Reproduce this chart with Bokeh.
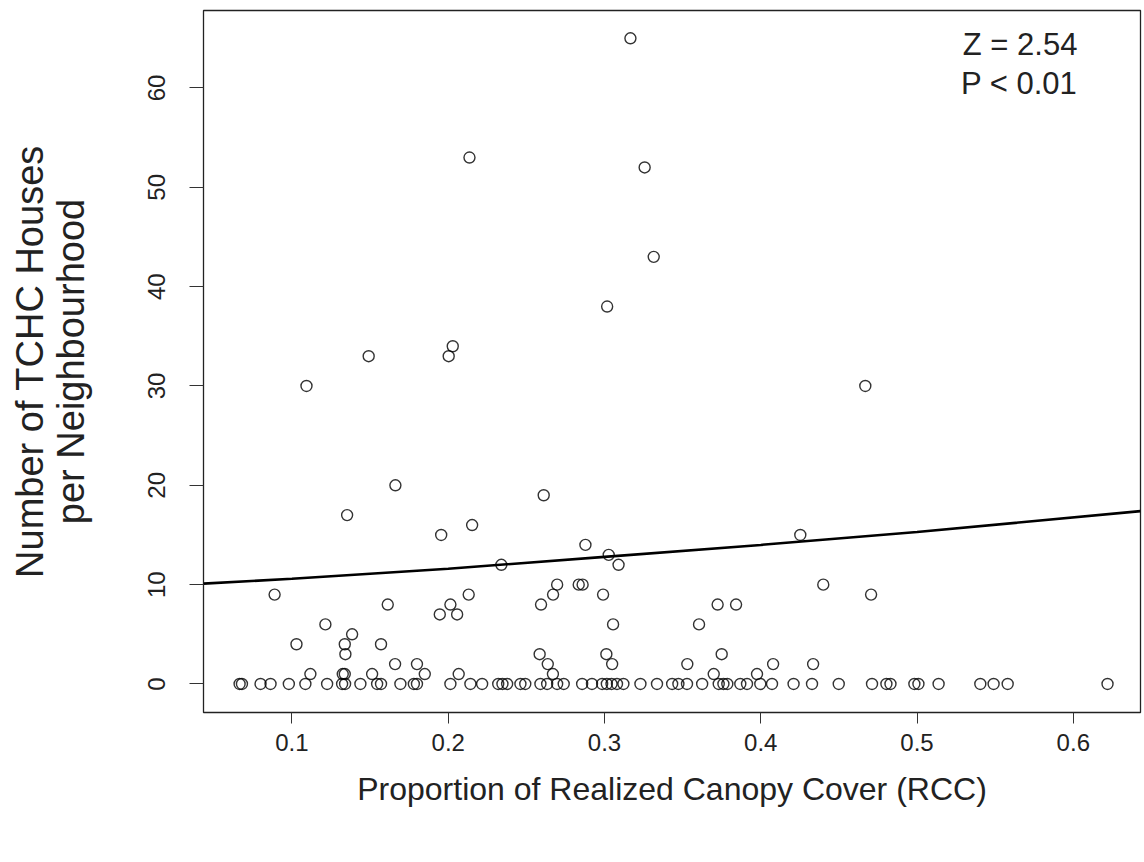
from bokeh.plotting import figure
from bokeh.models import LinearAxis, FixedTicker, Label, ColumnDataSource, Range1d
from bokeh.embed import file_html
from bokeh.resources import INLINE

# ---------------- data ----------------
rcc_nonzero = [0.0889, 0.1029, 0.1093, 0.1118, 0.1214, 0.1325, 0.1338, 0.1342, 0.1338, 0.1385,
               0.1353, 0.1491, 0.1513, 0.1570, 0.1613, 0.1662, 0.1660, 0.1800, 0.1850, 0.1946,
               0.1955, 0.2014, 0.2003, 0.2029, 0.2057, 0.2067, 0.2131, 0.2136, 0.2153, 0.2340,
               0.2585, 0.2594, 0.2611, 0.2637, 0.2670, 0.2671, 0.2697, 0.2835, 0.2860, 0.2878,
               0.2991, 0.3012, 0.3017, 0.3027, 0.3049, 0.3055, 0.3090, 0.3166, 0.3257, 0.3315,
               0.3530, 0.3605, 0.3699, 0.3724, 0.3750, 0.3842, 0.3976, 0.4079, 0.4253, 0.4335,
               0.4400, 0.4669, 0.4706]
houses_nonzero = [9, 4, 30, 1, 6, 1, 1, 3, 4, 5,
                  17, 33, 1, 4, 8, 20, 2, 2, 1, 7,
                  15, 8, 33, 34, 7, 1, 9, 53, 16, 12,
                  3, 8, 19, 2, 1, 9, 10, 10, 10, 14,
                  9, 3, 38, 13, 2, 6, 12, 65, 52, 43,
                  2, 6, 1, 8, 3, 8, 1, 2, 15, 2,
                  10, 30, 9]
rcc_zero = [0.0665, 0.0680, 0.0799, 0.0863, 0.0980, 0.1086, 0.1225, 0.1321, 0.1340, 0.1438,
            0.1545, 0.1570, 0.1694, 0.1780, 0.1800, 0.2014, 0.2142, 0.2217, 0.2320, 0.2347,
            0.2377, 0.2462, 0.2493, 0.2590, 0.2633, 0.2697, 0.2739, 0.2857, 0.2920, 0.2985,
            0.3015, 0.3045, 0.3080, 0.3121, 0.3230, 0.3336, 0.3433, 0.3473, 0.3528, 0.3625,
            0.3731, 0.3761, 0.3786, 0.3869, 0.3912, 0.3997, 0.4072, 0.4210, 0.4328, 0.4499,
            0.4712, 0.4804, 0.4830, 0.4983, 0.5009, 0.5138, 0.5405, 0.5490, 0.5580, 0.6219]
houses_zero = [0] * len(rcc_zero)

# fitted curve
fit_rcc = [0.0434, 0.1, 0.2, 0.3, 0.4, 0.5, 0.643]
fit_houses = [10.1, 10.6, 11.6, 12.8, 14.0, 15.3, 17.4]

x_ticks = [0.1, 0.2, 0.3, 0.4, 0.5, 0.6]
y_ticks = [0, 10, 20, 30, 40, 50, 60]

x_title = "Proportion of Realized Canopy Cover (RCC)"
y_title_1 = "Number of TCHC Houses"
y_title_2 = "per Neighbourhood"
stat_lines = ["Z = 2.54", "P < 0.01"]

FONT = "Liberation Sans"

# ---------------- figure ----------------
p = figure(width=1142, height=852,
           x_range=Range1d(0.0434, 0.643), y_range=Range1d(-2.87, 67.8),
           output_backend="svg", toolbar_location=None,
           min_border_left=203, min_border_right=2, min_border_top=10, min_border_bottom=140)
p.grid.visible = False
p.background_fill_color = "white"
p.border_fill_color = "white"
p.outline_line_color = "#222222"
p.outline_line_width = 1.3

src = ColumnDataSource(dict(x=rcc_nonzero + rcc_zero, y=houses_nonzero + houses_zero))
p.scatter("x", "y", source=src, marker="circle", size=11, fill_color=None,
          line_color="black", line_width=1.4, line_alpha=0.8)
p.line(fit_rcc, fit_houses, line_color="black", line_width=2.6)

# x axis
xa = p.xaxis[0]
xa.ticker = FixedTicker(ticks=x_ticks)
xa.axis_line_color = None
xa.major_tick_in = 0
xa.major_tick_out = 11
xa.major_tick_line_color = "#333333"
xa.minor_tick_line_color = None
xa.major_label_text_font = FONT
xa.major_label_text_font_size = "24px"
xa.major_label_text_color = "#222222"
xa.major_label_standoff = 10
xa.axis_label = x_title
xa.axis_label_text_font = FONT
xa.axis_label_text_font_size = "32px"
xa.axis_label_text_font_style = "normal"
xa.axis_label_text_color = "#222222"
xa.axis_label_standoff = 17

# y axis (inner)
ya = p.yaxis[0]
ya.ticker = FixedTicker(ticks=y_ticks)
ya.axis_line_color = None
ya.major_tick_in = 0
ya.major_tick_out = 14
ya.major_tick_line_color = "#333333"
ya.minor_tick_line_color = None
ya.major_label_orientation = "parallel"
ya.major_label_text_font = FONT
ya.major_label_text_font_size = "24px"
ya.major_label_text_color = "#222222"
ya.major_label_standoff = 24
ya.axis_label = y_title_2
ya.axis_label_text_font = FONT
ya.axis_label_text_font_size = "38px"
ya.axis_label_text_font_style = "normal"
ya.axis_label_text_color = "#222222"
ya.axis_label_standoff = 54

# y axis (outer, first title line)
ya2 = LinearAxis(ticker=FixedTicker(ticks=[]), axis_line_color=None,
                 major_tick_line_color=None, minor_tick_line_color=None,
                 major_label_text_font_size="0px",
                 axis_label=y_title_1, axis_label_text_font=FONT,
                 axis_label_text_font_size="38px", axis_label_text_font_style="normal",
                 axis_label_text_color="#222222", axis_label_standoff=-4)
p.add_layout(ya2, "left")

# statistics text
for i, t in enumerate(stat_lines):
    p.add_layout(Label(x=0.6026, y=64.4 - 3.9 * i, text=t, text_align="right",
                       text_baseline="middle", text_font=FONT, text_font_size="31px",
                       text_color="#222222"))

open("out.html", "w").write(file_html(p, INLINE))
